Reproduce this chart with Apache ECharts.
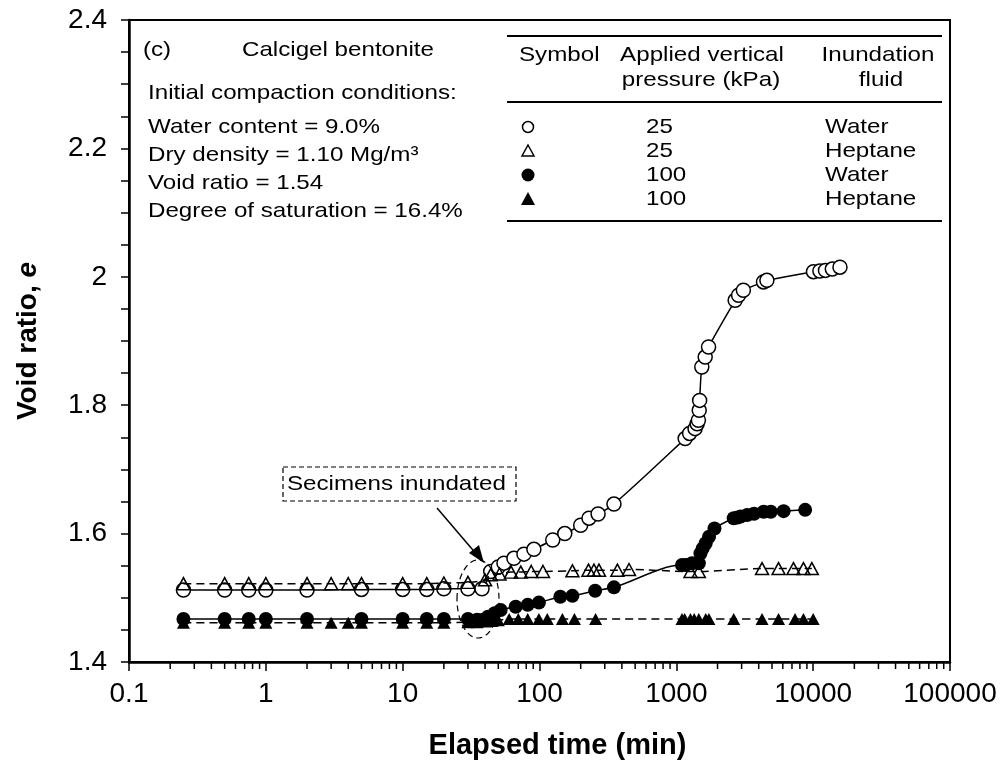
<!DOCTYPE html>
<html>
<head>
<meta charset="utf-8">
<script src="https://cdn.jsdelivr.net/npm/echarts@6/dist/echarts.min.js"></script>
<style>
html,body{margin:0;padding:0;background:#fff;}
#chart{width:1008px;height:776px;}
</style>
</head>
<body>
<div id="chart"></div>
<script>
// ---- data (time in min, void ratio e) ----
const water25 = [
  [0.25,1.512],[0.5,1.512],[0.75,1.512],[1,1.512],[2,1.512],[5,1.513],[10,1.513],[15,1.513],[20,1.514],
  [30,1.514],[38,1.514],[44,1.541],[50,1.548],[55,1.554],[65,1.5615],[77,1.568],[91,1.5755],[125,1.59],
  [153,1.60],[200,1.613],[230,1.624],[268,1.6305],[350,1.646],[1160,1.748],[1250,1.756],[1370,1.7635],
  [1420,1.771],[1450,1.7765],[1470,1.792],[1480,1.8075],[1535,1.8595],[1625,1.875],[1720,1.8907],
  [2690,1.9634],[2850,1.9713],[3090,1.979],[4335,1.992],[4590,1.9945],[10050,2.008],[11200,2.009],
  [12300,2.010],[13800,2.012],[15700,2.015]
];
const heptane25 = [
  [0.25,1.522],[0.5,1.522],[0.75,1.522],[1,1.522],[2,1.522],[3,1.522],[4,1.522],[5,1.522],[10,1.522],
  [15,1.522],[20,1.523],[30,1.524],[40,1.528],[44,1.536],[51,1.537],[62,1.540],[73,1.540],[87,1.541],
  [106,1.541],[174,1.542],[228,1.543],[250,1.543],[272,1.543],[371,1.543],[451,1.544],[1270,1.541],
  [1460,1.541],[4230,1.5455],[5585,1.5455],[7180,1.5455],[8490,1.5455],[9775,1.5455]
];
const water100 = [
  [0.25,1.467],[0.5,1.467],[0.75,1.467],[1,1.467],[2,1.467],[5,1.467],[10,1.467],[15,1.467],[20,1.467],
  [30,1.467],[35,1.466],[38,1.4655],[42,1.4705],[47,1.476],[52,1.481],[67,1.486],[82,1.489],[99,1.4925],
  [142,1.5017],[174,1.503],[255,1.511],[350,1.5163],[1100,1.551],[1170,1.551],[1300,1.5537],[1460,1.5537],
  [1500,1.569],[1560,1.577],[1640,1.585],[1734,1.595],[1900,1.608],[2625,1.624],[2800,1.625],[2950,1.6265],
  [3290,1.629],[3700,1.631],[4345,1.634],[4900,1.634],[6080,1.635],[8740,1.637]
];
const heptane100 = [
  [0.25,1.461],[0.5,1.461],[0.75,1.461],[1,1.461],[2,1.461],[3,1.461],[4,1.461],[5,1.461],[10,1.461],
  [15,1.461],[20,1.461],[30,1.462],[35,1.462],[40,1.463],[45,1.464],[50,1.465],[60,1.467],[70,1.467],
  [82,1.467],[99,1.467],[114,1.467],[147,1.467],[180,1.467],[257,1.467],[1100,1.467],[1150,1.467],
  [1268,1.467],[1350,1.467],[1460,1.467],[1640,1.467],[1730,1.467],[2625,1.467],[4230,1.467],
  [5585,1.467],[7370,1.467],[8490,1.467],[10000,1.467]
];
const xMajorTicks = [0.1, 1, 10, 100, 1000, 10000, 100000];
const xMinorTicks = [];
xMajorTicks.slice(0, -1).forEach(d => { for (let k = 2; k <= 9; k++) xMinorTicks.push(+(k * d).toPrecision(3)); });

const legendRows = [
  {sym:'circle-open', p:'25', f:'Water'},
  {sym:'tri-open', p:'25', f:'Heptane'},
  {sym:'circle-filled', p:'100', f:'Water'},
  {sym:'tri-filled', p:'100', f:'Heptane'}
];
const infoLines = ['Initial compaction conditions:', 'Water content = 9.0%', 'Dry density = 1.10 Mg/m\u00B3', 'Void ratio = 1.54', 'Degree of saturation = 16.4%'];

// ---- chart ----
const FONT = '"Liberation Sans", Arial, sans-serif';
const chart = echarts.init(document.getElementById('chart'), null, {renderer:'canvas'});

function txt(x, y, s, align, sx) {
  return {type:'text', x:x, y:y, scaleX: sx || 1.15, z:100,
    style:{text:s, x:0, y:0, font:'21px ' + FONT, fill:'#000', textAlign:align || 'left', textVerticalAlign:'middle'}};
}
function hline(x1, x2, y) {
  return {type:'line', z:100, shape:{x1:x1, y1:y, x2:x2, y2:y}, style:{stroke:'#000', lineWidth:2}};
}
const graphics = [];
graphics.push(txt(143, 50, '(c)'));
graphics.push(txt(242, 50, 'Calcigel bentonite'));
const infoY = [93, 127, 155, 183, 211];
infoLines.forEach((s, i) => graphics.push(txt(148, infoY[i], s)));
// table
graphics.push(hline(507, 942, 36));
graphics.push(hline(507, 942, 102));
graphics.push(hline(507, 942, 221));
graphics.push(txt(519, 55, 'Symbol'));
graphics.push(txt(702, 55, 'Applied vertical', 'center'));
graphics.push(txt(701, 80, 'pressure (kPa)', 'center'));
graphics.push(txt(878, 55, 'Inundation', 'center'));
graphics.push(txt(881, 80, 'fluid', 'center'));
const rowY = [127, 151, 175, 199];
legendRows.forEach((r, i) => {
  const y = rowY[i], x = 528;
  if (r.sym === 'circle-open') graphics.push({type:'circle', z:100, shape:{cx:x, cy:y, r:5.5}, style:{fill:'#fff', stroke:'#000', lineWidth:1.5}});
  if (r.sym === 'circle-filled') graphics.push({type:'circle', z:100, shape:{cx:x, cy:y, r:6.5}, style:{fill:'#000'}});
  if (r.sym === 'tri-open') graphics.push({type:'polygon', z:100, shape:{points:[[x, y-6],[x+6, y+5],[x-6, y+5]]}, style:{fill:'#fff', stroke:'#000', lineWidth:1.5}});
  if (r.sym === 'tri-filled') graphics.push({type:'polygon', z:100, shape:{points:[[x, y-7],[x+7, y+6],[x-7, y+6]]}, style:{fill:'#000'}});
  graphics.push(txt(646, y, r.p));
  graphics.push(txt(825, y, r.f));
});
// annotation
graphics.push({type:'rect', z:100, shape:{x:283, y:467, width:233, height:34}, style:{fill:'#fff', stroke:'#000', lineWidth:1.2, lineDash:[5,3]}});
graphics.push(txt(287, 484, 'Secimens inundated', 'left', 1.15));
graphics.push({type:'line', z:100, shape:{x1:437, y1:508, x2:478, y2:556}, style:{stroke:'#000', lineWidth:1.5}});
graphics.push({type:'polygon', z:100, shape:{points:[[484,563],[469,553],[479,545]]}, style:{fill:'#000'}});
graphics.push({type:'ellipse', z:100, shape:{cx:478, cy:599, rx:21, ry:39}, style:{fill:'none', stroke:'#000', lineWidth:1.2, lineDash:[6,4]}});

const openStyle = {color:'#fff', borderColor:'#000', borderWidth:1.5};
const option = {
  animation:false,
  backgroundColor:'#fff',
  textStyle:{fontFamily:FONT},
  grid:{left:129, right:58, top:20, bottom:114, containLabel:false, outerBoundsMode:'none',
        show:true, borderColor:'#000', borderWidth:2, backgroundColor:'transparent'},
  xAxis:{
    type:'log', logBase:10, min:0.1, max:100000,
    name:'Elapsed time (min)', nameLocation:'middle', nameGap:69,
    nameTextStyle:{fontFamily:FONT, fontWeight:'bold', fontSize:29, color:'#000', padding:[0,0,0,36]},
    axisLine:{show:true, onZero:false, lineStyle:{color:'#000', width:2.5}},
    axisTick:{show:true, inside:false, length:9, lineStyle:{color:'#000', width:1.5}},
    minorTick:{show:false},
    splitLine:{show:false},
    axisLabel:{color:'#000', fontSize:28, fontFamily:FONT, margin:18,
      formatter:v => String(+(+v).toPrecision(6))}
  },
  yAxis:{
    type:'value', min:1.4, max:2.4, interval:0.2,
    name:'{b|Void ratio, }{i|e}', nameLocation:'middle', nameRotate:90, nameGap:87,
    nameTextStyle:{rich:{
      b:{fontFamily:FONT, fontWeight:'bold', fontSize:28, color:'#000'},
      i:{fontFamily:FONT, fontWeight:'bold', fontStyle:'italic', fontSize:28, color:'#000'}}},
    axisLine:{show:true, lineStyle:{color:'#000', width:2.5}},
    axisTick:{show:true, inside:false, length:8, lineStyle:{color:'#000', width:1.5}},
    minorTick:{show:true, splitNumber:4, length:8, lineStyle:{color:'#000', width:1.5}},
    splitLine:{show:false},
    axisLabel:{color:'#000', fontSize:28, fontFamily:FONT, margin:22,
      formatter:v => String(+(+v).toFixed(1))}
  },
  graphic:{elements:graphics},
  series:[
    {name:'minor', type:'custom', coordinateSystem:'cartesian2d', clip:false, silent:true, z:5,
     data:xMinorTicks.map(v => [v, 1.4]), encode:{x:0, y:1},
     renderItem:(params, api) => {
       const p = api.coord([api.value(0), api.value(1)]);
       return {type:'line', shape:{x1:p[0], y1:p[1], x2:p[0], y2:p[1] + 7}, style:{stroke:'#000', lineWidth:1.5}};
     }},
    {name:'100 kPa Heptane', type:'line', data:heptane100, smooth:0.3, symbol:'triangle', symbolSize:[13,12],
     lineStyle:{color:'#000', width:1.5, type:[8,5]}, itemStyle:{color:'#000'}, z:2},
    {name:'100 kPa Water', type:'line', data:water100, smooth:0.3, symbol:'circle', symbolSize:14,
     lineStyle:{color:'#000', width:1.5}, itemStyle:{color:'#000'}, z:3},
    {name:'25 kPa Water', type:'line', data:water25, smooth:0.3, symbol:'circle', symbolSize:14,
     lineStyle:{color:'#000', width:1.5}, itemStyle:openStyle, z:4},
    {name:'25 kPa Heptane', type:'line', data:heptane25, smooth:0.3, symbol:'triangle', symbolSize:[13,12],
     lineStyle:{color:'#000', width:1.5, type:[8,5]}, itemStyle:{color:'transparent', borderColor:'#000', borderWidth:1.5}, z:5}
  ]
};
chart.setOption(option);
</script>
</body>
</html>
